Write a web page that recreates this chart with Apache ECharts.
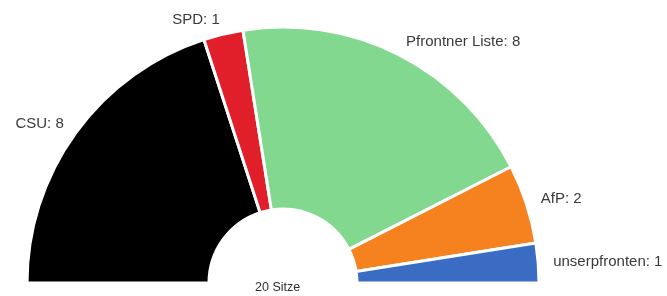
<!DOCTYPE html>
<html>
<head>
<meta charset="utf-8">
<script src="https://cdn.jsdelivr.net/npm/echarts@6/dist/echarts.min.js"></script>
<style>
  html, body { margin: 0; padding: 0; background: #fff; }
  #chart { width: 667px; height: 296px; }
</style>
</head>
<body>
<div id="chart"></div>
<script>
// Sitzverteilung Gemeinderat
const parties = ['CSU', 'SPD', 'Pfrontner Liste', 'AfP', 'unserpfronten']
const seats = [8, 1, 8, 2, 1]
const colors = ['#000000', '#e11f2b', '#82d88f', '#f5821f', '#3a6cc4']
const totalLabel = '20 Sitze'

const chart = echarts.init(document.getElementById('chart'))

const option = {
  animation: false,
  graphic: [
    {
      type: 'text',
      left: 255,
      top: 281,
      style: {
        text: totalLabel,
        fill: '#2e2e2e',
        font: '12.5px "Liberation Sans", Arial, sans-serif'
      }
    }
  ],
  series: [
    {
      type: 'pie',
      center: [283, 283],
      radius: [74, 256],
      startAngle: 180,
      endAngle: 0,
      clockwise: true,
      avoidLabelOverlap: false,
      itemStyle: {
        borderColor: '#fff',
        borderWidth: 3
      },
      label: {
        show: true,
        position: 'outside',
        formatter: '{b}: {c}',
        color: '#3a3a3a',
        fontSize: 15,
        fontFamily: '"Liberation Sans", Arial, sans-serif',
        distanceToLabelLine: 0
      },
      labelLine: {
        show: false,
        length: 15,
        length2: 0
      },
      data: parties.map((name, i) => ({
        name: name,
        value: seats[i],
        itemStyle: { color: colors[i] }
      }))
    }
  ]
}

chart.setOption(option)
</script>
</body>
</html>
